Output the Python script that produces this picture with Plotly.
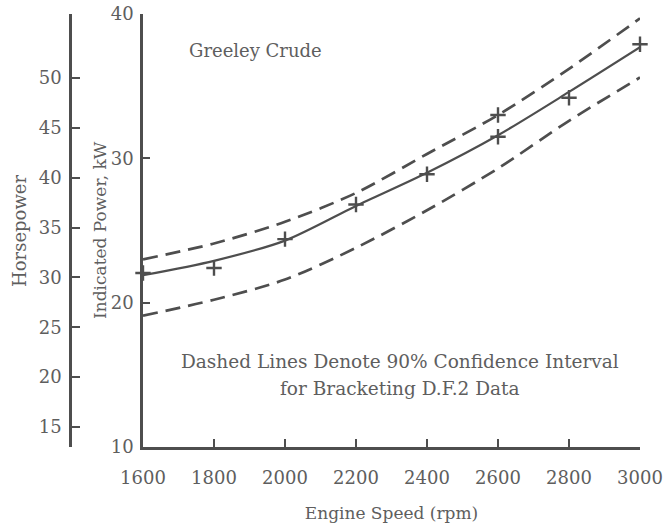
import plotly.graph_objects as go

# ---- data ----
rpm = [1600, 1800, 2000, 2200, 2400, 2600, 2800, 3000]
upper_kw = [23.0, 24.1, 25.6, 27.6, 30.3, 33.0, 36.2, 39.7]
fit_kw = [21.9, 22.9, 24.3, 26.7, 29.0, 31.6, 34.6, 37.7]
lower_kw = [19.1, 20.2, 21.6, 23.8, 26.4, 29.3, 32.6, 35.6]

obs_rpm = [1600, 1800, 2000, 2200, 2400, 2600, 2600, 2800, 3000]
obs_kw = [22.06, 22.4, 24.4, 26.8, 28.9, 33.0, 31.5, 34.2, 37.9]

x_ticks = [1600, 1800, 2000, 2200, 2400, 2600, 2800, 3000]
kw_ticks = [10, 20, 30, 40]
hp_ticks = [15, 20, 25, 30, 35, 40, 45, 50]

LINE = "#4e4e4e"
TEXT = "#5e5e5e"
FONT = "DejaVu Serif"

fig = go.Figure()
for ys in (upper_kw, lower_kw):
    fig.add_trace(go.Scatter(
        x=rpm, y=ys, mode="lines",
        line=dict(color=LINE, width=2.7, dash="15px,8px", shape="spline", smoothing=0.8),
        cliponaxis=False, showlegend=False, hoverinfo="skip"))
fig.add_trace(go.Scatter(
    x=rpm, y=fit_kw, mode="lines",
    line=dict(color=LINE, width=2.2, shape="spline", smoothing=0.8),
    cliponaxis=False, showlegend=False))
fig.add_trace(go.Scatter(
    x=obs_rpm, y=obs_kw, mode="markers",
    marker=dict(symbol="cross-thin", size=11, line=dict(color=LINE, width=2.4)),
    cliponaxis=False, showlegend=False))

# Horsepower axis drives an invisible trace so it is rendered
fig.add_trace(go.Scatter(x=[None], y=[None], yaxis="y2", showlegend=False))

L, R, T, B = 10, 30, 14, 81
W = 670 - L - R
H = 528 - T - B
x0 = (143 - L) / W

tick_font = dict(size=18, family=FONT, color=TEXT)

fig.update_layout(
    width=670, height=528,
    margin=dict(l=L, r=R, t=T, b=B, autoexpand=False),
    paper_bgcolor="white", plot_bgcolor="white",
    font=dict(family=FONT, color=TEXT, size=18),
    xaxis=dict(
        domain=[x0, 1], range=[1600, 3000],
        tickvals=x_ticks, ticks="inside", ticklen=8, tickwidth=2.2, tickcolor=LINE,
        showline=True, linecolor=LINE, linewidth=2.6, showgrid=False, zeroline=False,
        ticklabelstandoff=13, tickfont=tick_font,
        title=dict(text="Engine Speed (rpm)", standoff=20, font=dict(size=17, family=FONT, color=TEXT)),
        automargin=False,
    ),
    yaxis=dict(
        range=[10, 40], tickvals=kw_ticks, ticks="inside", ticklen=7, tickwidth=2.2,
        tickcolor=LINE, showline=True, linecolor=LINE, linewidth=2.6, showgrid=False,
        zeroline=False, ticklabelstandoff=3, tickfont=tick_font, automargin=False,
    ),
    yaxis2=dict(
        overlaying="y", anchor="free", side="left", position=(70 - L) / W,
        range=[12.99, 56.42], tickvals=hp_ticks, ticks="inside", ticklen=8, tickwidth=2.2,
        tickcolor=LINE, showline=True, linecolor=LINE, linewidth=2.6, showgrid=False,
        zeroline=False, ticklabelstandoff=4, tickfont=tick_font, automargin=False,
    ),
    annotations=[
        dict(text="Horsepower", xref="paper", yref="paper",
             x=(20 - L) / W, y=(447 - 231) / H, textangle=-90, showarrow=False,
             xanchor="center", yanchor="middle", font=dict(size=18, family=FONT, color=TEXT)),
        dict(text="Indicated Power, kW", xref="paper", yref="paper",
             x=(100 - L) / W, y=(447 - 230) / H, textangle=-90, showarrow=False,
             xanchor="center", yanchor="middle", font=dict(size=17, family=FONT, color=TEXT)),
        dict(text="Greeley Crude", x=1918, y=37.5, xref="x", yref="y", showarrow=False,
             xanchor="center", yanchor="middle", font=dict(size=18, family=FONT, color=TEXT)),
        dict(text="Dashed Lines Denote 90% Confidence Interval", x=2324, y=15.9,
             xref="x", yref="y", showarrow=False, xanchor="center", yanchor="middle",
             font=dict(size=18.5, family=FONT, color=TEXT)),
        dict(text="for Bracketing D.F.2 Data", x=2324, y=14.05,
             xref="x", yref="y", showarrow=False, xanchor="center", yanchor="middle",
             font=dict(size=18.5, family=FONT, color=TEXT)),
    ],
)

fig.write_html("out.html")
